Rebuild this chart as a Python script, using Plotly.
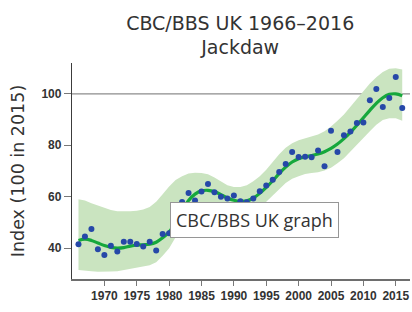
import plotly.graph_objects as go

years = list(range(1966, 2017))

index_points = [41.5, 44.5, 47.4, 39.6, 37.3, 40.9, 38.7, 42.5, 42.5, 41.6,
                40.6, 42.5, 39.1, 45.5, 45.8,
                49.0, 57.9, 61.4, 58.5, 62.0, 64.9, 61.7, 60.0, 59.3, 60.5,
                58.2, 57.8, 59.3, 62.1, 64.4, 66.6, 69.6, 72.7, 77.4, 75.4,
                75.5, 75.3, 78.0, 71.8, 85.7, 77.4, 83.9, 85.4, 88.7, 88.9,
                97.5, 101.9, 94.9, 98.4, 106.6, 94.5]

trend = [43, 43.5, 43, 42, 41, 40.3, 40, 40.2, 40.8, 41.2,
         41.3, 41.5, 42.3, 44, 46.3,
         50, 54.5, 58.5, 61, 62.3, 62.5, 62, 60.8, 59.5, 58.6,
         58.2, 58.4, 59.5, 61.3, 63.6, 66.2, 69, 71.5, 73.5, 74.8,
         75.5, 76, 76.6, 77.5, 78.8, 80.5, 82.6, 85, 87.8, 90.7,
         93.6, 96.3, 98.5, 99.8, 100, 99.3]

upper = [59, 58.5, 57.5, 56.5, 55.5, 54.8, 54.3, 54.2, 54.3, 54.5,
         55, 56, 58, 61, 64,
         66.5, 68, 69, 69.3, 69.2, 68.7, 67.5, 66, 64.5, 63.8,
         63.8, 64.5, 66, 68, 70.5, 73.5, 76.5, 79, 80.8, 82,
         82.7, 83.3, 84.2, 85.5, 87.3, 89.5, 92, 95, 98, 101,
         104, 106.5, 108.5, 109.8, 110, 109.5]

lower = [31.5, 31.3, 31, 30.8, 30.8, 30.9, 31, 31.3, 31.8, 32.3,
         32.8, 33.3, 34.5, 37, 40,
         44, 48.5, 52, 54, 55.2, 55.5, 55, 54, 53, 52.5,
         52.5, 53, 54, 55.8, 58, 60.5, 63, 65.3, 67, 68,
         68.8, 69.2, 69.5, 70.2, 71.3, 73, 75, 77.5, 80, 82.8,
         85.5, 88, 89.8, 90.5, 90.5, 89.5]

x_ticks = [1970, 1975, 1980, 1985, 1990, 1995, 2000, 2005, 2010, 2015]
y_ticks = [40, 60, 80, 100]

fig = go.Figure()

fig.add_trace(go.Scatter(
    x=years + years[::-1], y=upper + lower[::-1],
    fill="toself", fillcolor="rgb(202,228,192)",
    line=dict(width=0), mode="lines", hoverinfo="skip", showlegend=False))

fig.add_trace(go.Scatter(
    x=years, y=trend, mode="lines",
    line=dict(color="rgb(22,168,60)", width=3.2, shape="spline"),
    showlegend=False))

fig.add_trace(go.Scatter(
    x=years, y=index_points, mode="markers",
    marker=dict(color="rgb(38,72,168)", size=6),
    showlegend=False))

fig.add_shape(type="line", xref="paper", yref="y", x0=0, x1=1, y0=100, y1=100,
              line=dict(color="rgb(140,140,140)", width=1.2), layer="below")

fig.add_annotation(
    x=0.289, y=0.273, xref="paper", yref="paper", xanchor="left", yanchor="middle",
    text="CBC/BBS UK graph", showarrow=False,
    font=dict(family="Open Sans", size=18, color="#333"),
    bgcolor="white", bordercolor="rgb(150,150,150)", borderwidth=1, borderpad=5)

fig.update_layout(
    width=412, height=312,
    margin=dict(l=72, r=2, t=63, b=33, autoexpand=False),
    paper_bgcolor="white", plot_bgcolor="white",
    title=dict(text="CBC/BBS UK 1966\u20132016<br>Jackdaw",
               x=0.583, xanchor="center", y=0.905, yanchor="top",
               font=dict(family="DejaVu Sans", size=19, color="#333")),
    xaxis=dict(range=[1965, 2017.2], tickvals=x_ticks, ticks="outside",
               ticklen=5, tickcolor="rgb(120,120,120)", automargin=False,
               showline=True, linecolor="rgb(110,110,110)", linewidth=1.5,
               showgrid=False, zeroline=False,
               tickfont=dict(family="Liberation Sans", size=12, color="#333",
                             weight="bold")),
    yaxis=dict(range=[28, 112], tickvals=y_ticks, ticks="outside",
               ticklen=7, tickcolor="rgb(120,120,120)", automargin=False,
               showline=True, linecolor="rgb(60,60,60)", linewidth=1.3,
               showgrid=False, zeroline=False,
               title=dict(text="Index (100 in 2015)", standoff=12,
                          font=dict(family="DejaVu Sans", size=17.5, color="#333")),
               tickfont=dict(family="Liberation Sans", size=12, color="#333",
                             weight="bold")),
)

fig.write_html(
    "out.html",
    config={"displayModeBar": False},
    post_script="document.body.style.margin='0';document.body.style.overflow='hidden';",
)
